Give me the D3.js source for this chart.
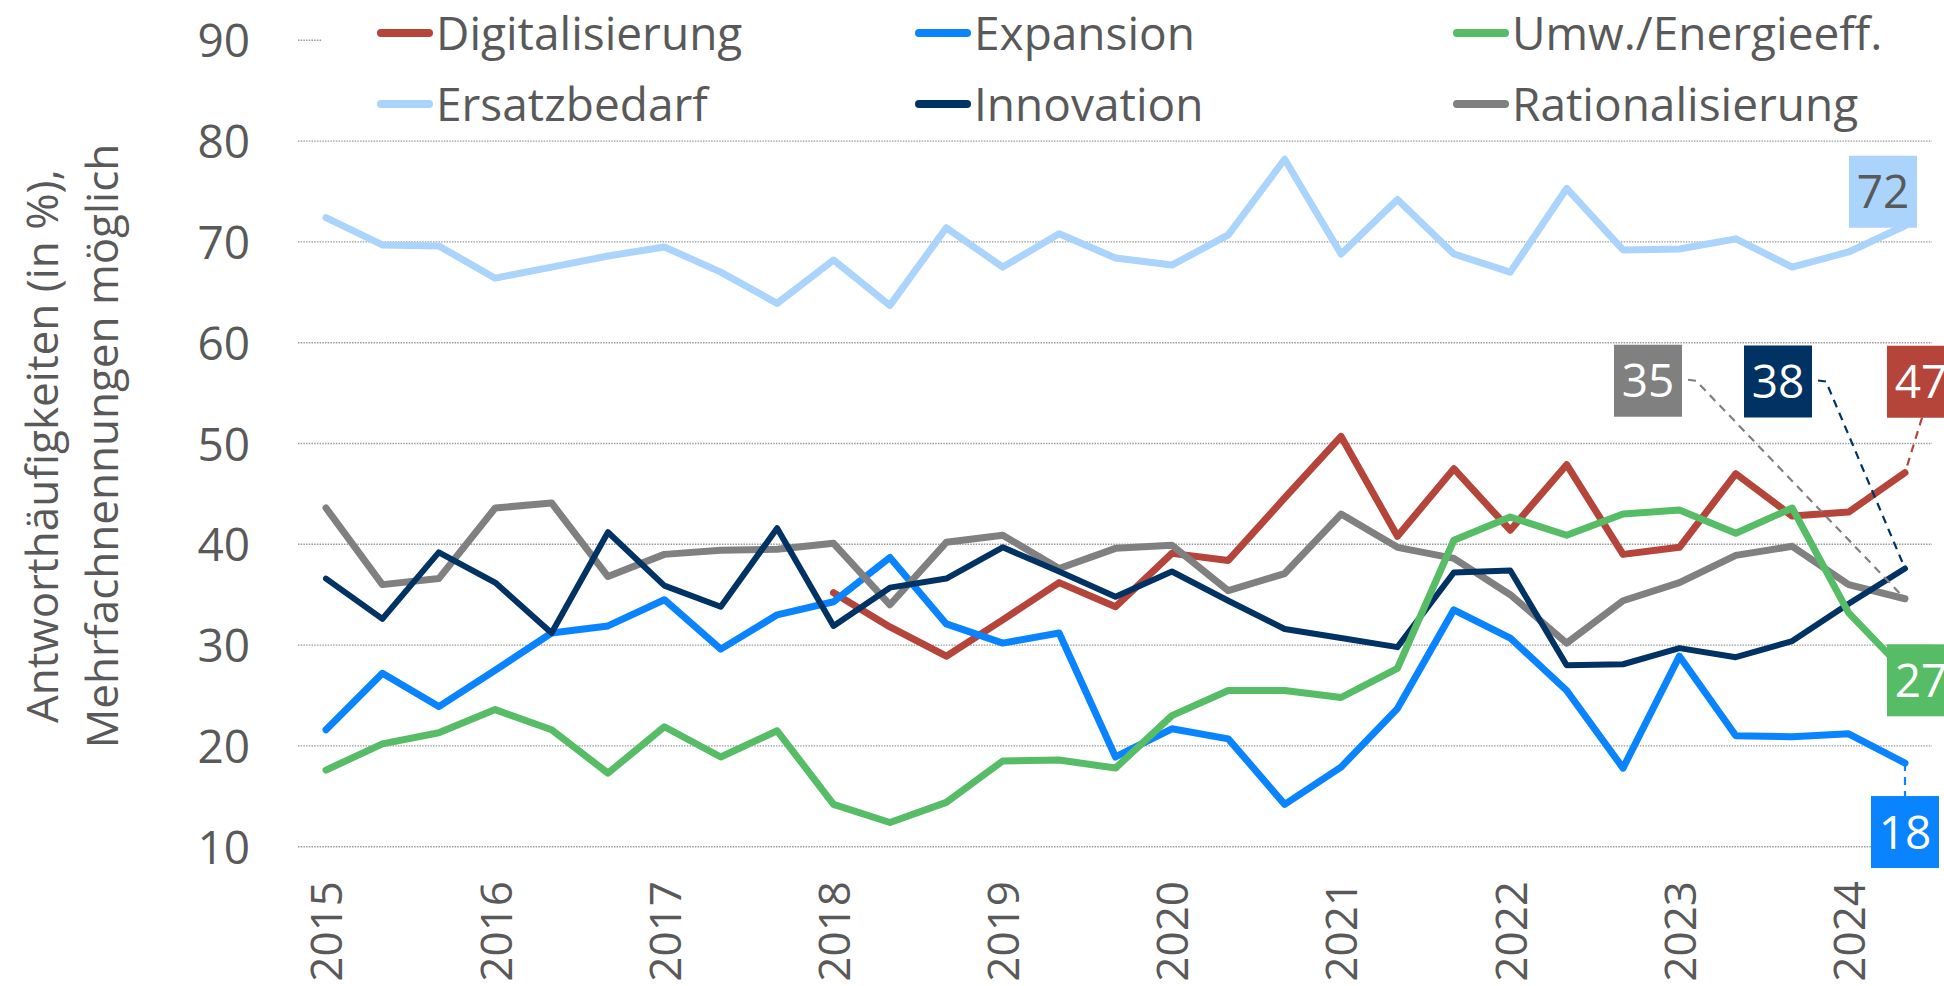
<!DOCTYPE html>
<html>
<head>
<meta charset="utf-8">
<script src="https://cdn.jsdelivr.net/npm/d3@7"></script>
<style>
  body { margin: 0; background: #fff; }
  svg text { font-family: 'Open Sans', sans-serif; fill: #595959; }
</style>
</head>
<body>
<div id="chart"></div>
<script>
// periods: Jan / May / Sep survey waves
const periods = [
  '2015-01', '2015-05', '2015-09', '2016-01', '2016-05', '2016-09',
  '2017-01', '2017-05', '2017-09', '2018-01', '2018-05', '2018-09',
  '2019-01', '2019-05', '2019-09', '2020-01', '2020-05', '2020-09',
  '2021-01', '2021-05', '2021-09', '2022-01', '2022-05', '2022-09',
  '2023-01', '2023-05', '2023-09', '2024-01', '2024-05'
];
const yTicks = [10, 20, 30, 40, 50, 60, 70, 80, 90];

const digitalisierung = [null, null, null, null, null, null, null, null, null,
  35.2, 31.8, 28.9, 32.5, 36.2, 33.8, 39.1, 38.4, 44.6, 50.7, 40.8,
  47.5, 41.4, 47.9, 39.0, 39.7, 47.0, 42.8, 43.2, 47.1];
const ersatzbedarf = [72.4, 69.7, 69.6, 66.4, 67.5, 68.6, 69.5, 67.0, 63.9, 68.2,
  63.7, 71.4, 67.5, 70.8, 68.4, 67.7, 70.7, 78.2, 68.8, 74.2,
  68.8, 67.0, 75.3, 69.2, 69.3, 70.3, 67.5, 69.0, 71.6];
const expansion = [21.6, 27.2, 23.9, 27.5, 31.2, 31.9, 34.5, 29.6, 33.0, 34.3,
  38.7, 32.1, 30.2, 31.2, 18.9, 21.7, 20.7, 14.2, 17.9, 23.7,
  33.5, 30.7, 25.5, 17.8, 28.9, 21.0, 20.9, 21.2, 18.3];
const innovation = [36.6, 32.6, 39.2, 36.2, 31.2, 41.2, 35.9, 33.8, 41.6, 31.9,
  35.7, 36.6, 39.7, 37.3, 34.8, 37.3, 34.4, 31.6, 30.7, 29.8,
  37.2, 37.4, 28.0, 28.1, 29.7, 28.8, 30.4, 34.1, 37.6];
const umwelt = [17.6, 20.2, 21.3, 23.6, 21.6, 17.3, 21.9, 18.9, 21.5, 14.2,
  12.4, 14.4, 18.5, 18.6, 17.8, 23.0, 25.5, 25.5, 24.8, 27.7,
  40.4, 42.7, 40.9, 43.0, 43.4, 41.1, 43.6, 33.2, 27.4];
const rationalisierung = [43.6, 36.0, 36.6, 43.6, 44.1, 36.8, 39.0, 39.4, 39.5, 40.1,
  34.0, 40.2, 40.9, 37.6, 39.6, 39.9, 35.4, 37.1, 43.0, 39.7,
  38.6, 35.0, 30.2, 34.4, 36.2, 38.9, 39.8, 36.0, 34.6];

// legend order (row by row)
const legendNames = ['Digitalisierung', 'Expansion', 'Umw./Energieeff.',
  'Ersatzbedarf', 'Innovation', 'Rationalisierung'];

const series = [
  {name: 'Digitalisierung', values: digitalisierung, color: '#b5443a', w: 7, lab: {dx: 16, dy: -91, txt: '#fff'}, leader: 'down'},
  {name: 'Ersatzbedarf', values: ersatzbedarf, color: '#aad4fb', w: 7, lab: {dx: -22, dy: -34, txt: '#595959'}},
  {name: 'Expansion', values: expansion, color: '#0a84fe', w: 7, lab: {dx: 0, dy: 69, txt: '#fff'}, leader: 'up'},
  {name: 'Rationalisierung', values: rationalisierung, color: '#808080', w: 7, lab: {dx: -257, dy: -218, txt: '#fff'}, leader: 'side'},
  {name: 'Innovation', values: innovation, color: '#003263', w: 6, lab: {dx: -127, dy: -187, txt: '#fff'}, leader: 'side'},
  {name: 'Umw./Energieeff.', values: umwelt, color: '#57bc66', w: 7, lab: {dx: 16, dy: 9, txt: '#fff'}}
];

const width = 1944, height = 986;
const svg = d3.select('#chart').append('svg')
  .attr('width', width)
  .attr('height', height);

const x = d3.scalePoint()
  .domain(periods)
  .range([326, 1905]);
const y = d3.scaleLinear()
  .domain([10, 90])
  .range([846.7, 40.3]);

// gridlines
svg.append('g')
  .selectAll('line')
  .data(yTicks)
  .enter().append('line')
  .attr('x1', 298)
  .attr('x2', 1932)
  .attr('y1', d => y(d))
  .attr('y2', d => y(d))
  .attr('stroke', '#9a9a9a')
  .attr('stroke-width', 1.4)
  .attr('stroke-dasharray', '1.5,1.2');

// y axis labels
const yAxis = svg.append('g')
  .attr('transform', 'translate(250,0)')
  .call(d3.axisLeft(y).tickValues(yTicks).tickSize(0).tickPadding(0));
yAxis.select('.domain').remove();
yAxis.selectAll('text')
  .style('font-size', '46px')
  .style('font-family', "'Open Sans', sans-serif")
  .attr('fill', '#595959')
  .attr('dy', '0.36em');

// x axis labels (years, rotated)
const xAxis = svg.append('g')
  .attr('transform', 'translate(0,881)')
  .call(d3.axisBottom(x)
    .tickValues(periods.filter(p => p.endsWith('-01')))
    .tickFormat(p => p.slice(0, 4))
    .tickSize(0));
xAxis.select('.domain').remove();
xAxis.selectAll('text')
  .style('font-size', '44px')
  .style('font-family', "'Open Sans', sans-serif")
  .attr('fill', '#595959')
  .attr('text-anchor', 'end')
  .attr('x', 0)
  .attr('y', 0)
  .attr('dy', '0.36em')
  .attr('transform', 'rotate(-90)');

// axis title
const title = svg.append('text')
  .attr('transform', 'translate(0,446) rotate(-90)')
  .attr('text-anchor', 'middle')
  .style('font-size', '44px');
title.append('tspan').attr('x', 0).attr('y', 58).text('Antworthäufigkeiten (in %),');
title.append('tspan').attr('x', 0).attr('y', 118).text('Mehrfachnennungen möglich');

// lines
const line = d3.line()
  .defined(d => d != null)
  .x((d, i) => x(periods[i]))
  .y(d => y(d));

svg.append('g')
  .selectAll('path')
  .data(series)
  .enter().append('path')
  .attr('d', s => line(s.values))
  .attr('fill', 'none')
  .attr('stroke', s => s.color)
  .attr('stroke-width', s => s.w)
  .attr('stroke-linejoin', 'round')
  .attr('stroke-linecap', 'round');

// legend (white box covers top gridline)
const legend = svg.append('g');
legend.append('rect')
  .attr('x', 322).attr('y', 0)
  .attr('width', width - 322).attr('height', 125)
  .attr('fill', '#fff');
const colX = [377, 915, 1453];
const rowY = [33, 104];
legendNames.forEach((name, k) => {
  const s = series.find(d => d.name === name);
  const lx = colX[k % 3], ly = rowY[Math.floor(k / 3)];
  legend.append('line')
    .attr('x1', lx + 4).attr('x2', lx + 52)
    .attr('y1', ly).attr('y2', ly)
    .attr('stroke', s.color)
    .attr('stroke-width', 8)
    .attr('stroke-linecap', 'round');
  legend.append('text')
    .attr('x', lx + 59)
    .attr('y', ly)
    .attr('dy', '0.36em')
    .style('font-size', '46px')
    .text(name);
});

// end labels
const bw = 68, bh = 72;
const labels = svg.append('g');
series.forEach(s => {
  const last = s.values.length - 1;
  const px = x(periods[last]), py = y(s.values[last]);
  const cx = px + s.lab.dx, cy = py + s.lab.dy;
  let pts = null;
  if (s.leader === 'side') {
    pts = [[cx + bw / 2 + 6, cy - 1], [cx + bw / 2 + 14, cy], [px, py]];
  } else if (s.leader === 'down') {
    pts = [[cx + 1, cy + bh / 2], [px, py]];
  } else if (s.leader === 'up') {
    pts = [[px, py], [cx, cy - bh / 2]];
  }
  if (pts) {
    labels.append('path')
      .attr('d', d3.line()(pts))
      .attr('fill', 'none')
      .attr('stroke', s.color)
      .attr('stroke-width', 2.2)
      .attr('stroke-dasharray', '8,6');
  }
  labels.append('rect')
    .attr('x', cx - bw / 2)
    .attr('y', cy - bh / 2)
    .attr('width', bw)
    .attr('height', bh)
    .attr('fill', s.color);
  labels.append('text')
    .attr('x', cx)
    .attr('y', cy)
    .attr('dy', '0.36em')
    .attr('text-anchor', 'middle')
    .style('font-size', '46px')
    .style('fill', s.lab.txt)
    .text(Math.round(s.values[last]));
});
</script>
</body>
</html>
